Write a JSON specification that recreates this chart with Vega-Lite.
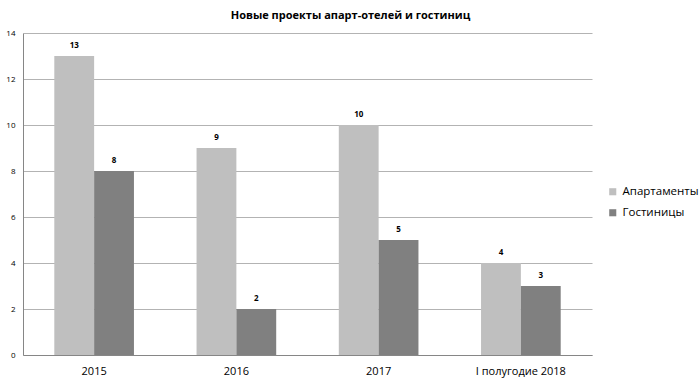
{
  "$schema": "https://vega.github.io/schema/vega-lite/v6.json",
  "width": 569,
  "height": 322,
  "autosize": {"type": "none"},
  "padding": {"left": 23, "top": 33, "right": 108, "bottom": 30},
  "background": "white",
  "title": {
    "text": "Новые проекты апарт-отелей и гостиниц",
    "font": "Open Sans",
    "fontSize": 11,
    "fontWeight": "bold",
    "color": "#000000",
    "anchor": "middle",
    "dx": 43,
    "offset": 8
  },
  "data": {
    "values": [
      {"period": "2015", "series": "Апартаменты", "value": 13},
      {"period": "2015", "series": "Гостиницы", "value": 8},
      {"period": "2016", "series": "Апартаменты", "value": 9},
      {"period": "2016", "series": "Гостиницы", "value": 2},
      {"period": "2017", "series": "Апартаменты", "value": 10},
      {"period": "2017", "series": "Гостиницы", "value": 5},
      {"period": "I полугодие 2018", "series": "Апартаменты", "value": 4},
      {"period": "I полугодие 2018", "series": "Гостиницы", "value": 3}
    ]
  },
  "encoding": {
    "x": {
      "field": "period",
      "type": "nominal",
      "sort": null,
      "title": null,
      "scale": {"paddingInner": 0.44, "paddingOuter": 0.22},
      "axis": {
        "labelAngle": 0,
        "labelFont": "Open Sans",
        "labelFontSize": 11,
        "labelColor": "#000000",
        "ticks": false,
        "labelPadding": 10,
        "domainColor": "#868686",
        "grid": false
      }
    },
    "xOffset": {"field": "series", "type": "nominal", "sort": ["Апартаменты", "Гостиницы"]},
    "y": {
      "field": "value",
      "type": "quantitative",
      "title": null,
      "scale": {"domain": [0, 14]},
      "axis": {
        "values": [0, 2, 4, 6, 8, 10, 12, 14],
        "labelFont": "Open Sans",
        "labelFontSize": 8,
        "labelColor": "#000000",
        "ticks": false,
        "labelPadding": 8,
        "domainColor": "#868686",
        "gridColor": "#B3B3B3"
      }
    }
  },
  "layer": [
    {
      "mark": {"type": "bar"},
      "encoding": {
        "color": {
          "field": "series",
          "type": "nominal",
          "sort": ["Апартаменты", "Гостиницы"],
          "scale": {"domain": ["Апартаменты", "Гостиницы"], "range": ["#BFBFBF", "#808080"]},
          "legend": {
            "title": null,
            "orient": "none",
            "legendX": 584,
            "legendY": 153,
            "symbolType": "square",
            "symbolSize": 50,
            "labelFont": "Open Sans",
            "labelFontSize": 11.5,
            "labelColor": "#000000",
            "rowPadding": 8,
            "labelOffset": 4
          }
        }
      }
    },
    {
      "mark": {"type": "text", "dy": -10, "font": "Open Sans", "fontSize": 8, "fontWeight": "bold", "color": "#000000"},
      "encoding": {"text": {"field": "value", "type": "quantitative"}}
    }
  ],
  "config": {"view": {"stroke": null}}
}
